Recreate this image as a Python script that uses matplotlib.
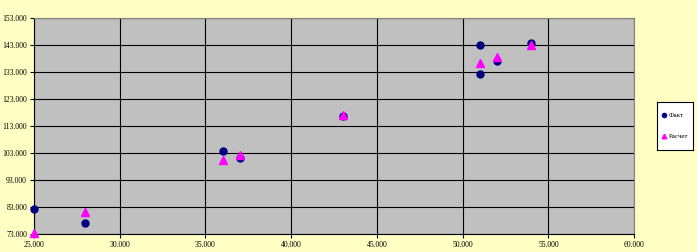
import matplotlib
matplotlib.use('Agg')
import matplotlib.pyplot as plt

# DATA
fact_x = [25, 28, 36, 37, 43, 51, 51, 52, 54]
fact_y = [82.3, 77.1, 103.7, 101.1, 116.7, 143.0, 132.2, 137.0, 143.7]
calc_x = [25, 28, 36, 37, 43, 51, 52, 54]
calc_y = [73.4, 81.1, 100.4, 102.3, 116.9, 136.3, 138.6, 143.0]
x_ticks = [25, 30, 35, 40, 45, 50, 55, 60]
y_ticks = [73, 83, 93, 103, 113, 123, 133, 143, 153]
series_names = ['Факт', 'Расчет']

plt.rcParams['font.family'] = ['Liberation Serif', 'DejaVu Serif']

fig = plt.figure(figsize=(6.97, 2.52), dpi=100)
fig.patch.set_facecolor('#FFFFC4')
ax = fig.add_axes([0.0488, 0.0714, 0.861, 0.857])
ax.set_facecolor('#C0C0C0')

ax.plot(fact_x, fact_y, 'o', color='#000080', markersize=5, label=series_names[0],
        zorder=3, clip_on=False)
ax.plot(calc_x, calc_y, '^', color='#FF00FF', markersize=5.5, label=series_names[1],
        zorder=3, clip_on=False)

ax.set_xlim(25, 60)
ax.set_ylim(73, 153)
ax.set_xticks(x_ticks)
ax.set_yticks(y_ticks)
ax.set_xticklabels(['%d.000' % v for v in x_ticks])
ax.set_yticklabels(['%d.000' % v for v in y_ticks])
ax.tick_params(labelsize=5.5, length=3, width=0.8, color='black', pad=2)
ax.grid(True, color='black', linewidth=0.8)
ax.set_axisbelow(True)
for side in ['top', 'right']:
    ax.spines[side].set_color('#808080')
for side in ['left', 'bottom']:
    ax.spines[side].set_color('black')

# legend box
leg_ax = fig.add_axes([0.9426, 0.405, 0.0517, 0.19])
leg_ax.set_facecolor('white')
leg_ax.set_xticks([])
leg_ax.set_yticks([])
for s in leg_ax.spines.values():
    s.set_color('black')
    s.set_linewidth(0.8)
h, l = ax.get_legend_handles_labels()
leg = leg_ax.legend(h, l, loc='center', fontsize=5, frameon=False,
                    handlelength=0.6, handletextpad=0.4,
                    labelspacing=2.2, borderpad=0.2, markerscale=0.6)

fig.savefig('out.png', dpi=100, facecolor=fig.get_facecolor())
